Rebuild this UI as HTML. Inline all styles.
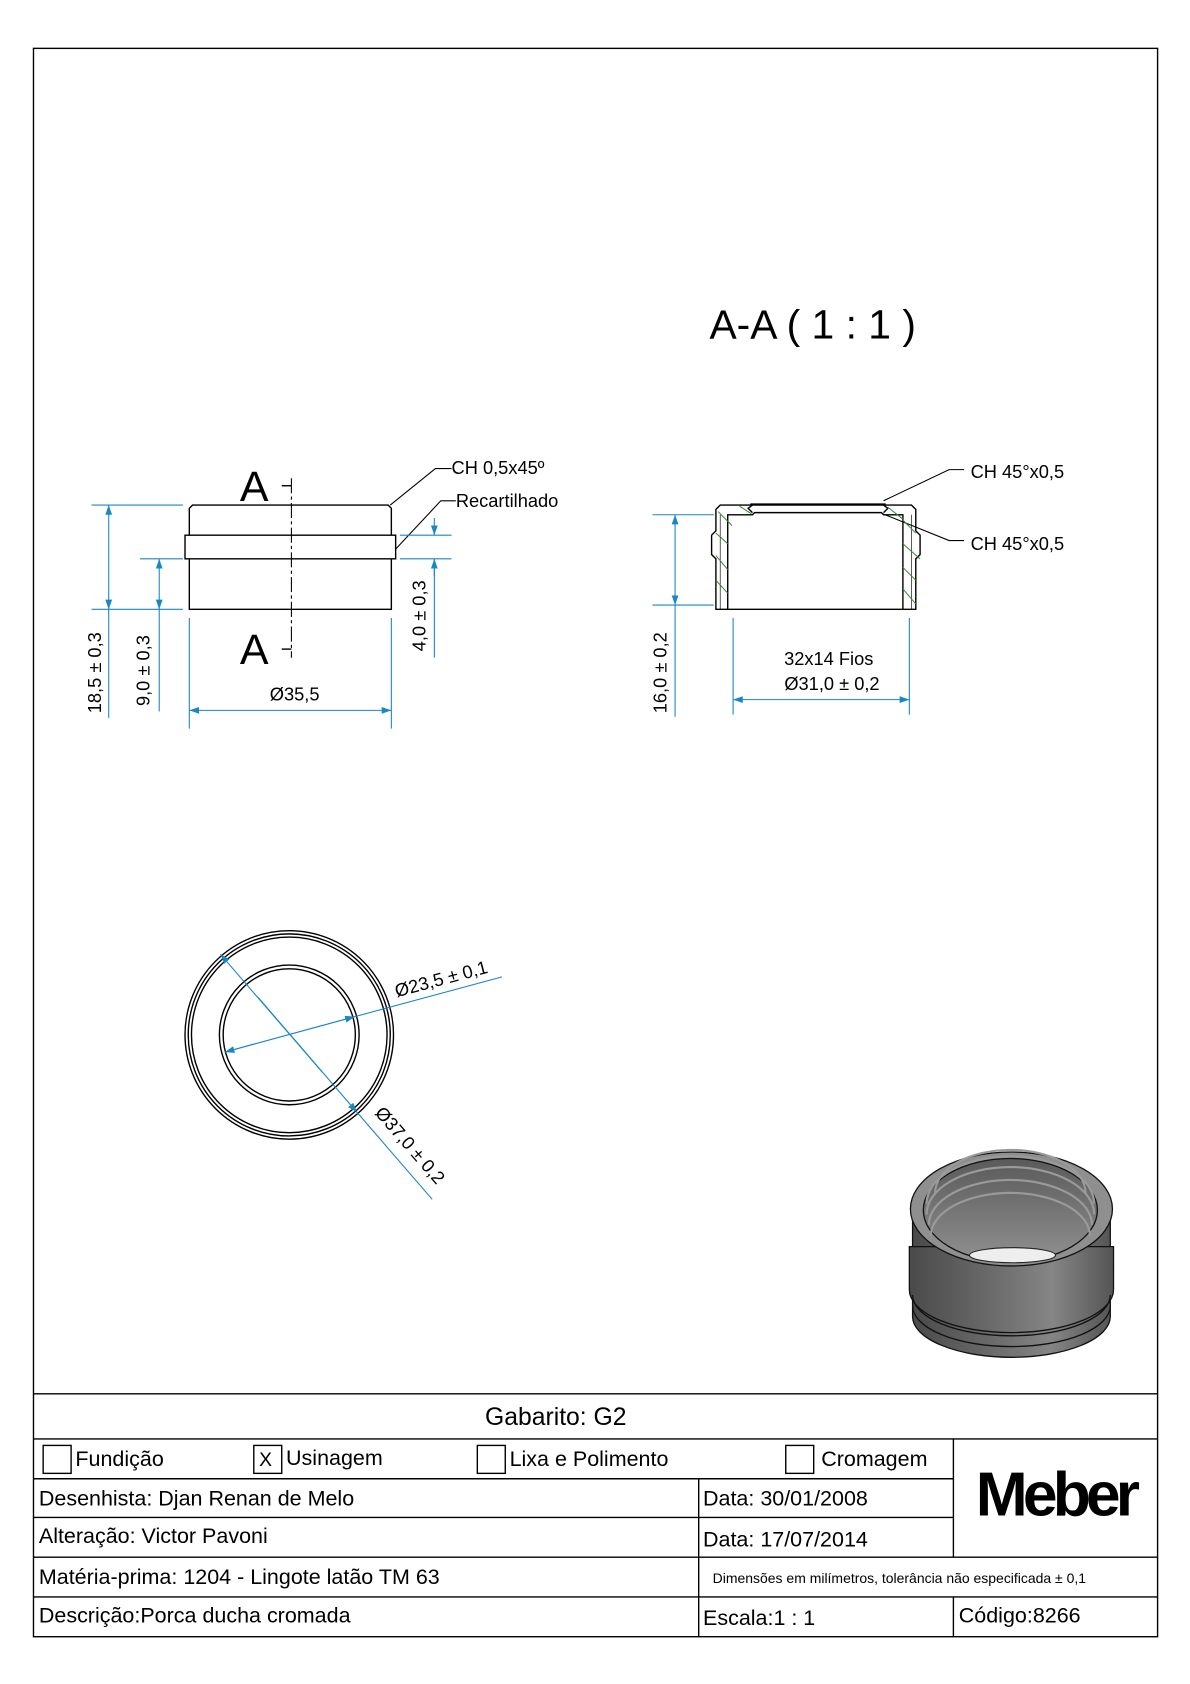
<!DOCTYPE html>
<html><head><meta charset="utf-8"><style>
html,body{margin:0;padding:0;background:#fff;}
svg{display:block;}
text{font-family:"Liberation Sans",sans-serif;}
</style></head><body>
<svg width="1190" height="1684" viewBox="0 0 1107 1567" xmlns="http://www.w3.org/2000/svg">
<defs>
<marker id="ar" viewBox="0 0 10 10" refX="10" refY="5" markerWidth="9" markerHeight="9" orient="auto-start-reverse" markerUnits="userSpaceOnUse"><path d="M0,1.5 L10,5 L0,8.5Z" fill="#1a86c4"/></marker>
<linearGradient id="side" x1="0" x2="1" y1="0" y2="0"><stop offset="0" stop-color="#4a4a4a"/><stop offset="0.35" stop-color="#666"/><stop offset="0.7" stop-color="#858585"/><stop offset="1" stop-color="#555"/></linearGradient>
<linearGradient id="inn" x1="0" x2="0" y1="0" y2="1"><stop offset="0" stop-color="#5a5a5a"/><stop offset="1" stop-color="#909090"/></linearGradient>
</defs>
<rect x="31" y="45" width="1046" height="1478" fill="none" stroke="#000" stroke-width="1.3"/>

<g stroke="#000" stroke-width="1.3" fill="none">
<line x1="31" y1="1297" x2="1077" y2="1297"/>
<line x1="31" y1="1339" x2="1077" y2="1339"/>
<line x1="31" y1="1376" x2="887" y2="1376"/>
<line x1="31" y1="1412" x2="887" y2="1412"/>
<line x1="31" y1="1449" x2="1077" y2="1449"/>
<line x1="31" y1="1486" x2="1077" y2="1486"/>
<line x1="650" y1="1376" x2="650" y2="1523"/>
<line x1="887" y1="1339" x2="887" y2="1449"/>
<line x1="887" y1="1486" x2="887" y2="1523"/>
<rect x="40" y="1345" width="26" height="26"/>
<rect x="236" y="1345" width="26" height="26"/>
<rect x="444" y="1345" width="26" height="26"/>
<rect x="731" y="1345" width="26" height="26"/>
</g>
<g font-size="20" fill="#000">
<text x="517" y="1326" text-anchor="middle" font-size="23">Gabarito: G2</text>
<text x="70" y="1364">Fundição</text>
<text x="241" y="1364" font-size="18">X</text>
<text x="266" y="1363">Usinagem</text>
<text x="474" y="1364">Lixa e Polimento</text>
<text x="764" y="1364">Cromagem</text>
<text x="36" y="1401">Desenhista: Djan Renan de Melo</text>
<text x="654" y="1401">Data: 30/01/2008</text>
<text x="36" y="1436">Alteração: Victor Pavoni</text>
<text x="654" y="1439">Data: 17/07/2014</text>
<text x="36" y="1474">Matéria-prima: 1204 - Lingote latão TM 63</text>
<text x="663" y="1473" font-size="13">Dimensões em milímetros, tolerância não especificada ± 0,1</text>
<text x="36" y="1510">Descrição:Porca ducha cromada</text>
<text x="654" y="1512">Escala:1 : 1</text>
<text x="892" y="1510">Código:8266</text>
<text x="982" y="1410" text-anchor="middle" font-size="58" font-weight="bold" letter-spacing="-4.5">Meber</text>
</g>

<text x="660" y="315" font-size="38">A-A  ( 1 : 1 )</text>

<g stroke="#000" stroke-width="1.3" fill="none">
<path d="M176,498 L176,473 L179,470 L361,470 L364,473 L364,498"/>
<rect x="172" y="498" width="196" height="22"/>
<path d="M176,520 L176,567 L364,567 L364,520"/>
<line x1="271" y1="445" x2="271" y2="612" stroke-dasharray="14,3,3,3" stroke-width="1"/>
<line x1="262" y1="452" x2="271" y2="452"/><line x1="262" y1="604" x2="271" y2="604"/>
<path d="M363,470 L405,436 L420,436" stroke-width="1"/>
<path d="M368,511 L410,466 L424,466" stroke-width="1"/>
</g>
<text x="223" y="466" font-size="40">A</text>
<text x="223" y="618" font-size="40">A</text>
<text x="420" y="441" font-size="17">CH 0,5x45º</text>
<text x="424" y="472" font-size="17">Recartilhado</text>
<g stroke="#1a86c4" stroke-width="1" fill="none">
<line x1="85" y1="470" x2="170" y2="470"/><line x1="85" y1="567" x2="170" y2="567"/>
<line x1="101" y1="470" x2="101" y2="567" marker-start="url(#ar)" marker-end="url(#ar)"/>
<line x1="101" y1="567" x2="101" y2="668"/>
<line x1="130" y1="520" x2="170" y2="520"/>
<line x1="148" y1="520" x2="148" y2="567" marker-start="url(#ar)" marker-end="url(#ar)"/>
<line x1="148" y1="567" x2="148" y2="662"/>
<line x1="372" y1="498" x2="420" y2="498"/><line x1="372" y1="520" x2="420" y2="520"/>
<line x1="404" y1="482" x2="404" y2="498" marker-end="url(#ar)"/>
<line x1="404" y1="536" x2="404" y2="520" marker-end="url(#ar)"/>
<line x1="404" y1="520" x2="404" y2="612"/>
<line x1="176" y1="575" x2="176" y2="678"/><line x1="364" y1="575" x2="364" y2="678"/>
<line x1="176" y1="661" x2="364" y2="661" marker-start="url(#ar)" marker-end="url(#ar)"/>
</g>
<g font-size="17">
<text transform="translate(94,626) rotate(-90)" text-anchor="middle">18,5 ± 0,3</text>
<text transform="translate(139,624) rotate(-90)" text-anchor="middle">9,0 ± 0,3</text>
<text transform="translate(396,573) rotate(-90)" text-anchor="middle">4,0 ± 0,3</text>
<text x="274" y="652" text-anchor="middle">Ø35,5</text>
</g>

<g stroke="#000" stroke-width="1.3" fill="none">
<path d="M670,470 L666,474 L666,494 L662,498 L662,516 L666,520 L666,567 L852,567 L852,520 L856,516 L856,498 L852,494 L852,474 L848,470 Z"/>
<path d="M677,567 L677,479 L700,479 L702,477 L820,477 L822,479 L840,479 L840,567"/>
<path d="M700,470 L696,473 L700,477 M822,470 L826,473 L822,477"/>
<line x1="698" y1="469" x2="824" y2="469"/>
<path d="M670,479 L670,567 M848,479 L848,567" stroke-width="0.6"/>
<path d="M822,466 L883,437 L897,437" stroke-width="1"/>
<path d="M821,478 L883,503 L897,503" stroke-width="1"/>
</g>
<g stroke="#2a8a2a" stroke-width="0.9">
<line x1="668" y1="476" x2="681" y2="489"/><line x1="688" y1="471" x2="699" y2="478"/>
<line x1="666" y1="496" x2="677" y2="506"/><line x1="666" y1="517" x2="677" y2="530"/>
<line x1="666" y1="540" x2="677" y2="552"/>
<line x1="826" y1="472" x2="840" y2="483"/><line x1="840" y1="484" x2="852" y2="496"/>
<line x1="840" y1="506" x2="856" y2="520"/><line x1="840" y1="528" x2="852" y2="540"/>
<line x1="840" y1="548" x2="852" y2="562"/>
</g>
<text x="903" y="445" font-size="17">CH 45°x0,5</text>
<text x="903" y="512" font-size="17">CH 45°x0,5</text>
<g stroke="#1a86c4" stroke-width="1" fill="none">
<line x1="607" y1="479" x2="664" y2="479"/><line x1="607" y1="563" x2="664" y2="563"/>
<line x1="628" y1="479" x2="628" y2="563" marker-start="url(#ar)" marker-end="url(#ar)"/>
<line x1="628" y1="563" x2="628" y2="667"/>
<line x1="682" y1="575" x2="682" y2="665"/><line x1="846" y1="575" x2="846" y2="665"/>
<line x1="682" y1="651" x2="846" y2="651" marker-start="url(#ar)" marker-end="url(#ar)"/>
</g>
<text transform="translate(620,626) rotate(-90)" text-anchor="middle" font-size="17">16,0 ± 0,2</text>
<text x="771" y="619" text-anchor="middle" font-size="17">32x14 Fios</text>
<text x="774" y="642" text-anchor="middle" font-size="17">Ø31,0 ± 0,2</text>

<g stroke="#000" stroke-width="1.3" fill="none">
<circle cx="269" cy="963" r="97"/><circle cx="269" cy="963" r="94"/><circle cx="269" cy="963" r="91"/>
<circle cx="269" cy="963" r="65"/><circle cx="269" cy="963" r="61.5"/>
</g>
<g stroke="#1a86c4" stroke-width="1" fill="none">
<line x1="330" y1="946" x2="209" y2="979" marker-end="url(#ar)"/>
<line x1="209" y1="979" x2="330" y2="946" marker-end="url(#ar)"/>
<line x1="330" y1="946" x2="467" y2="909"/>
<line x1="300" y1="998" x2="205" y2="888" marker-end="url(#ar)"/>
<line x1="240" y1="928" x2="332" y2="1035" marker-end="url(#ar)"/>
<line x1="332" y1="1035" x2="402" y2="1116"/>
</g>
<text transform="translate(369,928) rotate(-15)" font-size="17">Ø23,5 ± 0,1</text>
<text transform="translate(348,1036) rotate(49)" font-size="17">Ø37,0 ± 0,2</text>

<g stroke="#111" stroke-width="1.2">
<path d="M849,1135 L849,1225 A92,38 0 0 0 1033,1225 L1033,1135 Z" fill="url(#side)"/>
<path d="M846,1160 L846,1200 A95,40 0 0 0 1036,1200 L1036,1160 Z" fill="url(#side)"/>
<path d="M849,1205 A92,38 0 0 0 1033,1205" fill="none"/>
<path d="M849,1215 A92,38 0 0 0 1033,1215" fill="none"/>
<ellipse cx="941" cy="1125" rx="94" ry="53" fill="#8f8f8f"/>
<ellipse cx="940" cy="1126" rx="81" ry="48" fill="url(#inn)"/>
</g>
<g stroke="#9a9a9a" stroke-width="2" fill="none">
<path d="M862,1120 A78,44 0 0 1 1018,1120"/>
<path d="M862,1130 A78,44 0 0 1 1018,1130"/>
<path d="M864,1140 A76,42 0 0 1 1016,1140"/>
<path d="M866,1150 A74,40 0 0 1 1014,1150"/>
<path d="M870,1110 A70,40 0 0 1 1010,1110"/>
</g>
<ellipse cx="942" cy="1168" rx="40" ry="7" fill="#eee" stroke="#222"/>
</svg>
</body></html>
